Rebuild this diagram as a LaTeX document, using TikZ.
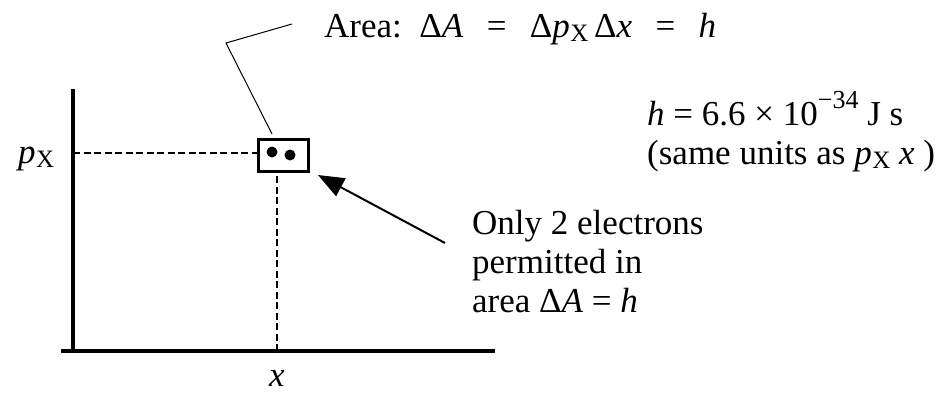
\documentclass[tikz,border=0pt]{standalone}
\usepackage{fontspec}
\setmainfont{Liberation Serif}
\usetikzlibrary{arrows.meta}
\newcommand{\pxsym}{\textit{p}\kern0.5pt\raisebox{-0.3ex}{\fontsize{25}{25}\selectfont X}}
\begin{document}
\begin{tikzpicture}[x=1pt,y=-1pt,
  lbl/.style={inner sep=0pt,font=\fontsize{35}{39}\selectfont},
  axis/.style={line width=3.2pt},
  guide/.style={line width=1.1pt,dash pattern=on 7pt off 3.5pt},
  leader/.style={line width=1pt},
  pointer/.style={line width=2pt,-{Triangle[length=26pt,width=20pt]}}]
\useasboundingbox (0,0) rectangle (945,392);
\coordinate (ytop) at (73,89);
\coordinate (xend) at (495,351);
\coordinate (xstart) at (61,351);
\draw[axis] (xstart) -- (xend);
\draw[axis] (73,352.6) -- (ytop);
\node[draw,line width=3pt,minimum width=50pt,minimum height=32pt,inner sep=0pt] (cell) at (283,155) {};
\fill (272,152) circle (5.5pt);
\fill (290,155) circle (5.5pt);
\coordinate (pyaxis) at (73,153);
\coordinate (xbottom) at (277,351);
\draw[guide] (pyaxis) -- (cell.west |- pyaxis);
\draw[guide] (xbottom) -- (xbottom |- cell.south);
\node[lbl,anchor=base west] (px) at (18,163) {\pxsym};
\node[lbl,anchor=base] (xl) at (277,386) {\textit{x}};
\coordinate (bend) at (226,43);
\coordinate (lend) at (292,24);
\coordinate (ltop) at (272,134);
\draw[leader] (ltop) -- (bend) -- (lend);
\node[lbl,anchor=base west] (area) at (324,37) {Area:\enspace Δ\textit{A}\enspace\,=\enspace\,Δ\pxsym\,Δ\textit{x}\enspace\,=\enspace\,\textit{h}};
\coordinate (tail) at (445,243);
\coordinate (tip) at (318,175);
\draw[pointer] (tail) -- (tip);
\node[lbl,anchor=base west,align=left] (only) at (472,312) {Only 2 electrons\\permitted in\\area Δ\textit{A} = \textit{h}};
\node[lbl,anchor=base west] (hval) at (647,125) {\textit{h} = 6.6 × 10\raisebox{1.05ex}{\fontsize{26}{26}\selectfont −34} J s};
\node[lbl,anchor=base west] (units) at (647,164) {(same units as \pxsym\ \textit{x} )};
\end{tikzpicture}
\end{document}
